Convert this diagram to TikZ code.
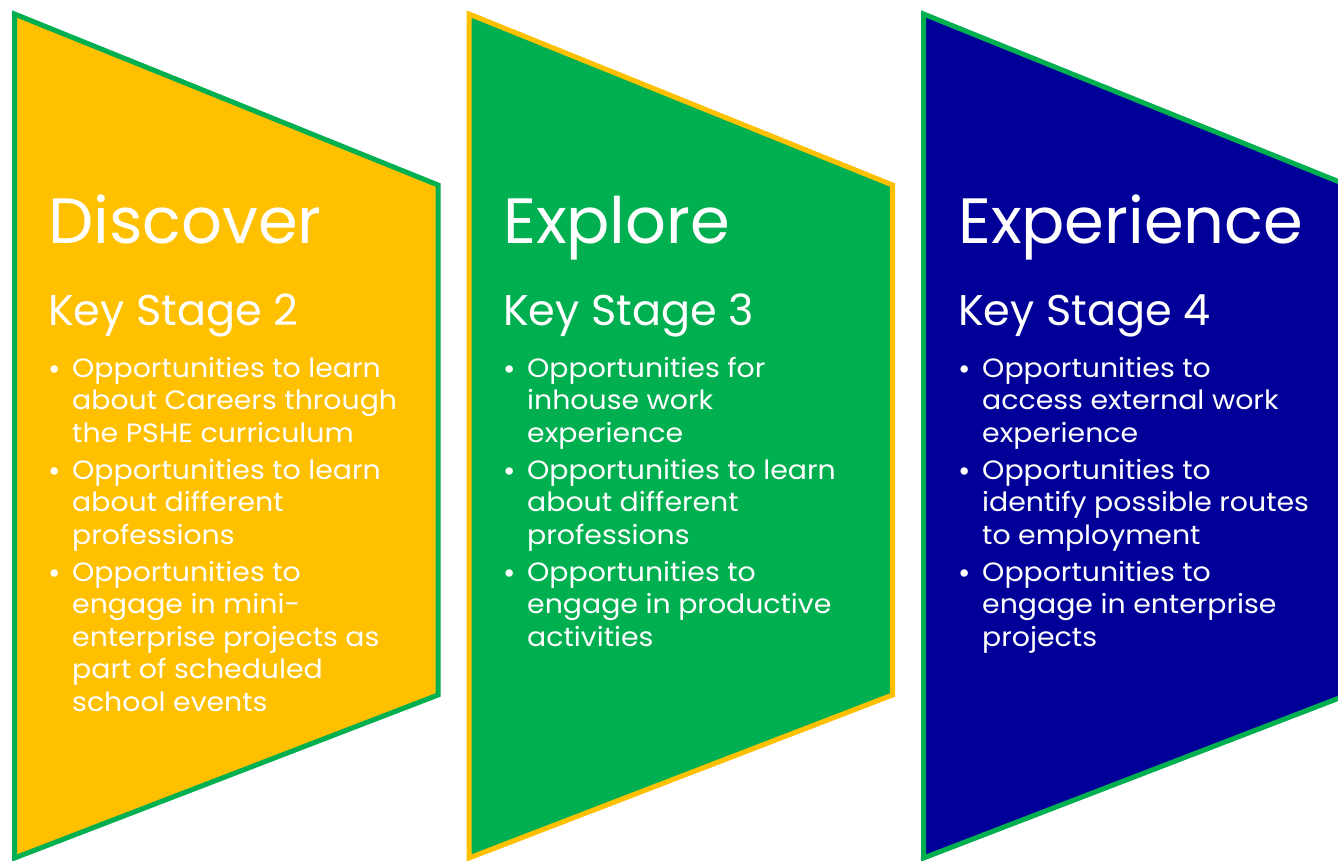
\documentclass[tikz,border=0pt]{standalone}
\usepackage{fontspec}
\setmainfont{Poppins}
\newfontfamily\bodyfont[FakeStretch=1.07]{Poppins}
\definecolor{cyel}{HTML}{FFC000}
\definecolor{cgrn}{HTML}{00B050}
\definecolor{cblu}{HTML}{000099}
\begin{document}
\begin{tikzpicture}[x=1pt,y=-1pt,
  panel/.style={line width=5pt, line join=miter},
  ttl/.style={anchor=base west, inner sep=0pt, text=white, font=\fontsize{64}{64}\selectfont},
  sub/.style={anchor=base west, inner sep=0pt, text=white, font=\fontsize{43}{43}\selectfont},
  body/.style={anchor=base west, inner sep=0pt, text=white, font=\bodyfont\fontsize{26.5}{26.5}\selectfont},
  bul/.style={anchor=base, inner sep=0pt, text=white, font=\fontsize{30}{30}\selectfont}]
\useasboundingbox (0,0) rectangle (1338,861);
\fill[white] (0,0) rectangle (1338,861);
% panels
\draw[panel, draw=cgrn, fill=cyel] (14.5,14) -- (438,185) -- (438,695) -- (14.5,858) -- cycle;
\draw[panel, draw=cyel, fill=cgrn] (469,14) -- (892.5,185) -- (892.5,695) -- (469,858) -- cycle;
\begin{scope}
\clip (0,0) rectangle (1338,861);
\draw[panel, draw=cgrn, fill=cblu] (923.5,14) -- (1347,185) -- (1347,695) -- (923.5,858) -- cycle;
\end{scope}
% panel 1
\node[ttl] (t1) at (48,243) {Discover};
\node[sub] (s1) at (48,325) {Key Stage 2};
\node[bul] (b1a) at (55,379) {•};
\node[body] (l1a) at (72,377) {Opportunities to learn};
\node[body] (l1b) at (72,409.5) {about Careers through};
\node[body] (l1c) at (72,442) {the PSHE curriculum};
\node[bul] (b1b) at (55,481) {•};
\node[body] (l1d) at (72,479) {Opportunities to learn};
\node[body] (l1e) at (72,511.5) {about different};
\node[body] (l1f) at (72,544) {professions};
\node[bul] (b1c) at (55,583) {•};
\node[body] (l1g) at (72,581) {Opportunities to};
\node[body] (l1h) at (72,613.5) {engage in mini-};
\node[body] (l1i) at (72,646) {enterprise projects as};
\node[body] (l1j) at (72,678.5) {part of scheduled};
\node[body] (l1k) at (72,711) {school events};
% panel 2
\node[ttl] (t2) at (503,243) {Explore};
\node[sub] (s2) at (503,325) {Key Stage 3};
\node[bul] (b2a) at (510,379) {•};
\node[body] (l2a) at (527,377) {Opportunities for};
\node[body] (l2b) at (527,409.5) {inhouse work};
\node[body] (l2c) at (527,442) {experience};
\node[bul] (b2b) at (510,481) {•};
\node[body] (l2d) at (527,479) {Opportunities to learn};
\node[body] (l2e) at (527,511.5) {about different};
\node[body] (l2f) at (527,544) {professions};
\node[bul] (b2c) at (510,583) {•};
\node[body] (l2g) at (527,581) {Opportunities to};
\node[body] (l2h) at (527,613.5) {engage in productive};
\node[body] (l2i) at (527,646) {activities};
% panel 3
\node[ttl] (t3) at (958,243) {Experience};
\node[sub] (s3) at (958,325) {Key Stage 4};
\node[bul] (b3a) at (965,379) {•};
\node[body] (l3a) at (982,377) {Opportunities to};
\node[body] (l3b) at (982,409.5) {access external work};
\node[body] (l3c) at (982,442) {experience};
\node[bul] (b3b) at (965,481) {•};
\node[body] (l3d) at (982,479) {Opportunities to};
\node[body] (l3e) at (982,511.5) {identify possible routes};
\node[body] (l3f) at (982,544) {to employment};
\node[bul] (b3c) at (965,583) {•};
\node[body] (l3g) at (982,581) {Opportunities to};
\node[body] (l3h) at (982,613.5) {engage in enterprise};
\node[body] (l3i) at (982,646) {projects};
\end{tikzpicture}
\end{document}
